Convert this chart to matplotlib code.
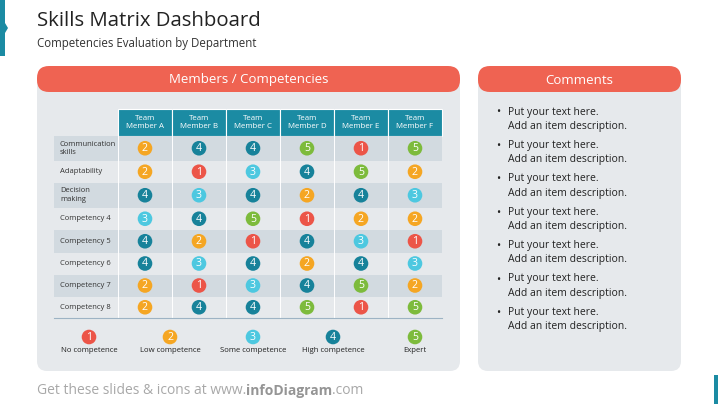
import numpy as np
import matplotlib
matplotlib.use("Agg")
from matplotlib import pyplot as plt
from matplotlib.patches import FancyBboxPatch, Rectangle, Circle, Polygon

# ------------------------------------
# Data

members = ["Team\nMember A", "Team\nMember B", "Team\nMember C",
           "Team\nMember D", "Team\nMember E", "Team\nMember F"]
competencies = ["Communication\nskills", "Adaptability", "Decision\nmaking",
                "Competency 4", "Competency 5", "Competency 6",
                "Competency 7", "Competency 8"]
scores = [
    [2, 4, 4, 5, 1, 5],
    [2, 1, 3, 4, 5, 2],
    [4, 3, 4, 2, 4, 3],
    [3, 4, 5, 1, 2, 2],
    [4, 2, 1, 4, 3, 1],
    [4, 3, 4, 2, 4, 3],
    [2, 1, 3, 4, 5, 2],
    [2, 4, 4, 5, 1, 5],
]
levels = [1, 2, 3, 4, 5]
level_labels = ["No competence", "Low competence", "Some competence",
                "High competence", "Expert"]
comments = ["Put your text here.\nAdd an item description."] * 7

# ------------------------------------
# Styling

FONT = "Open Sans"
RED = "#EF6352"
TEAL = "#1B8BA3"
PANEL = "#E6E9EC"
ROW_DARK = "#D2DAE0"
ROW_LIGHT = "#E6E9EC"
TXT = "#333333"
level_colors = {1: "#EC5548", 2: "#F5A623", 3: "#4DC8E0", 4: "#17829A", 5: "#7DBB3C"}

fig = plt.figure(figsize=(7.18, 4.04), dpi=100)
ax = fig.add_axes([0, 0, 1, 1])
ax.set_xlim(0, 718)
ax.set_ylim(404, 0)
ax.axis("off")


def pill(x0, y0, w, h, color, r):
    ax.add_patch(FancyBboxPatch((x0 + r, y0 + r), w - 2 * r, h - 2 * r,
                                boxstyle=f"round,pad={r}", fc=color, ec="none",
                                mutation_aspect=1))


# corner accents
ax.add_patch(Rectangle((0, 0), 5, 56, fc=TEAL, ec="none"))
ax.add_patch(Polygon([[5, 23], [8, 28], [5, 33]], fc=TEAL, ec="none"))
ax.add_patch(Rectangle((714, 375), 4, 29, fc=TEAL, ec="none"))

# titles
ax.text(37, 21, "Skills Matrix Dashboard", fontsize=14.7, family=FONT,
        color="#222222", va="center", ha="left")
ax.text(37, 44, "Competencies Evaluation by Department", fontsize=8.3,
        family=FONT, color="#333333", va="center", ha="left")

# panels
pill(37, 72, 423, 299, PANEL, 10)
pill(478, 72, 203, 299, PANEL, 10)
pill(37, 66, 423, 26, RED, 12)
pill(478, 66, 203, 26, RED, 12)
ax.text(248.5, 80, "Members / Competencies", fontsize=9.5, family=FONT,
        color="white", ha="center", va="center")
ax.text(579.5, 80, "Comments", fontsize=9.5, family=FONT,
        color="white", ha="center", va="center")

# ------------------------------------
# Table

col_x0 = 118
col_w = 54
label_x0 = 54
row_edges = [136, 160.5, 183, 207.5, 230, 252.5, 274.5, 296.5, 318]

for j, name in enumerate(members):
    x = col_x0 + j * col_w
    ax.add_patch(Rectangle((x, 109), col_w, 27, fc=TEAL, ec="white", lw=0.8))
    ax.text(x + col_w / 2, 122.5, name, fontsize=5.7, family=FONT,
            color="white", ha="center", va="center", linespacing=1.35)

for i, comp in enumerate(competencies):
    y0, y1 = row_edges[i], row_edges[i + 1]
    color = ROW_DARK if i % 2 == 0 else ROW_LIGHT
    ax.add_patch(Rectangle((label_x0, y0), col_x0 + 6 * col_w - label_x0,
                           y1 - y0, fc=color, ec="none"))
    ax.text(label_x0 + 6, (y0 + y1) / 2, comp, fontsize=5.5, family=FONT,
            color=TXT, ha="left", va="center", linespacing=1.3)
    for j, val in enumerate(scores[i]):
        cx = col_x0 + j * col_w + col_w / 2
        cy = (y0 + y1) / 2
        ax.add_patch(Circle((cx, cy), 7.3, fc=level_colors[val], ec="none"))
        ax.text(cx, cy + 0.3, str(val), fontsize=7.6, family=FONT,
                color="white", ha="center", va="center")

# column separators
for j in range(1, 6):
    x = col_x0 + j * col_w
    ax.plot([x, x], [136, 318], color="white", lw=0.7)
ax.plot([col_x0, col_x0], [136, 318], color="white", lw=0.7)
ax.plot([label_x0, col_x0 + 6 * col_w], [318, 318], color="#9DB3C4", lw=0.8)

# legend
legend_x = [89, 170, 253, 333, 415]
for lx, lev, lab in zip(legend_x, levels, level_labels):
    ax.add_patch(Circle((lx, 337), 7.3, fc=level_colors[lev], ec="none"))
    ax.text(lx, 337.3, str(lev), fontsize=7.6, family=FONT, color="white",
            ha="center", va="center")
    ax.text(lx, 351, lab, fontsize=5.6, family=FONT, color="#222222",
            ha="center", va="center")

# ------------------------------------
# Comments

for k, txt in enumerate(comments):
    y = 113 + k * 33.4
    ax.text(496, y, "\u2022", fontsize=8, family=FONT, color="#222222",
            ha="left", va="center")
    ax.text(508, y - 6.5, txt, fontsize=7.5, family=FONT, color="#222222",
            ha="left", va="top", linespacing=1.42)

# footer
ax.text(37, 391, "Get these slides & icons at www.", fontsize=10.0,
        family=FONT, color="#A8A8A8", ha="left", va="center")
fig.canvas.draw()
r = fig.canvas.get_renderer()
inv = ax.transData.inverted()
bb = ax.texts[-1].get_window_extent(r)
x_end = inv.transform((bb.x1, 0))[0]
t2 = ax.text(x_end, 391, "infoDiagram", fontsize=10.0, family=FONT,
             color="#959595", weight="bold", ha="left", va="center")
bb2 = t2.get_window_extent(r)
x_end2 = inv.transform((bb2.x1, 0))[0]
ax.text(x_end2, 391, ".com", fontsize=10.0, family=FONT, color="#A8A8A8",
        ha="left", va="center")

fig.savefig("out.png", dpi=100, facecolor="white")
